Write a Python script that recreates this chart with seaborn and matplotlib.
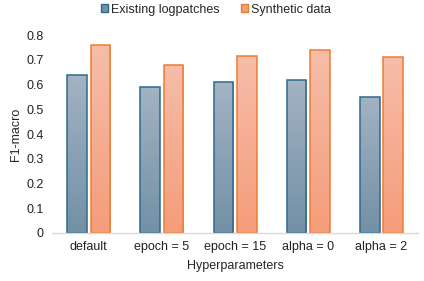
import numpy as np
import pandas as pd
import seaborn as sns
import matplotlib.pyplot as plt
from matplotlib.colors import LinearSegmentedColormap

plt.switch_backend('Agg')

categories = ["default", "epoch = 5", "epoch = 15", "alpha = 0", "alpha = 2"]
existing = [0.64, 0.59, 0.61, 0.62, 0.55]
synthetic = [0.76, 0.68, 0.715, 0.74, 0.71]
series = ["Existing logpatches", "Synthetic data"]

df = pd.DataFrame({
    "Hyperparameters": categories * 2,
    "F1-macro": existing + synthetic,
    "series": [series[0]] * len(categories) + [series[1]] * len(categories),
})

sns.set_style("white")
plt.rcParams['font.family'] = ['Liberation Sans', 'DejaVu Sans']
plt.rcParams['font.size'] = 9

fig = plt.figure(figsize=(4.24, 2.81), dpi=100)
ax = fig.add_axes([0.123, 0.171, 0.863, 0.704])

edge = {series[0]: "#2e6a8e", series[1]: "#ed7d31"}
grads = {series[0]: ("#a2b3c3", "#7390a6"), series[1]: ("#f6bda9", "#f49d7a")}

sns.barplot(data=df, x="Hyperparameters", y="F1-macro", hue="series",
            palette={series[0]: "#8ea3b5", series[1]: "#f5ae92"},
            width=0.64, gap=0.16, ax=ax, legend=True)

# gradient fill inside each bar, edge in series colour
n = len(categories)
for i, p in enumerate(ax.patches[:2 * n]):
    s = series[i // n]
    p.set_edgecolor(edge[s])
    p.set_linewidth(1.1)
    x0, y0 = p.get_x(), p.get_y()
    w, h = p.get_width(), p.get_height()
    cmap = LinearSegmentedColormap.from_list("g", [grads[s][1], grads[s][0]])
    im = ax.imshow(np.linspace(0, 1, 100).reshape(-1, 1), cmap=cmap,
                   extent=[x0, x0 + w, y0, y0 + h], origin="lower",
                   aspect="auto", zorder=p.get_zorder() + 0.1)
    im.set_clip_path(p)
    p.set_facecolor("none")
    p.set_zorder(p.get_zorder() + 0.2)

ax.set_xlim(-0.5, n - 0.5)
ax.set_ylim(0, 0.8)
ax.set_yticks(np.arange(0, 0.81, 0.1))
ax.set_yticklabels(["0"] + [f"{v:.1f}" for v in np.arange(0.1, 0.81, 0.1)])
ax.tick_params(length=0, pad=6, colors="#222222")
for side in ["top", "right", "left"]:
    ax.spines[side].set_visible(False)
ax.spines["bottom"].set_color("#d9d9d9")
ax.spines["bottom"].set_linewidth(1)
ax.set_xlabel("Hyperparameters", fontsize=9, labelpad=5)
ax.set_ylabel("F1-macro", fontsize=9, labelpad=3)

handles, labels = ax.get_legend_handles_labels()
for hnd, s in zip(handles, series):
    hnd.set_edgecolor(edge[s])
    hnd.set_facecolor(grads[s][1])
ax.legend(handles, labels, loc="upper center", bbox_to_anchor=(0.447, 1.215),
          ncol=2, frameon=False, handlelength=0.6, handleheight=0.6,
          handletextpad=0.2, columnspacing=1.7, fontsize=9)

fig.savefig("out.png", dpi=100)
